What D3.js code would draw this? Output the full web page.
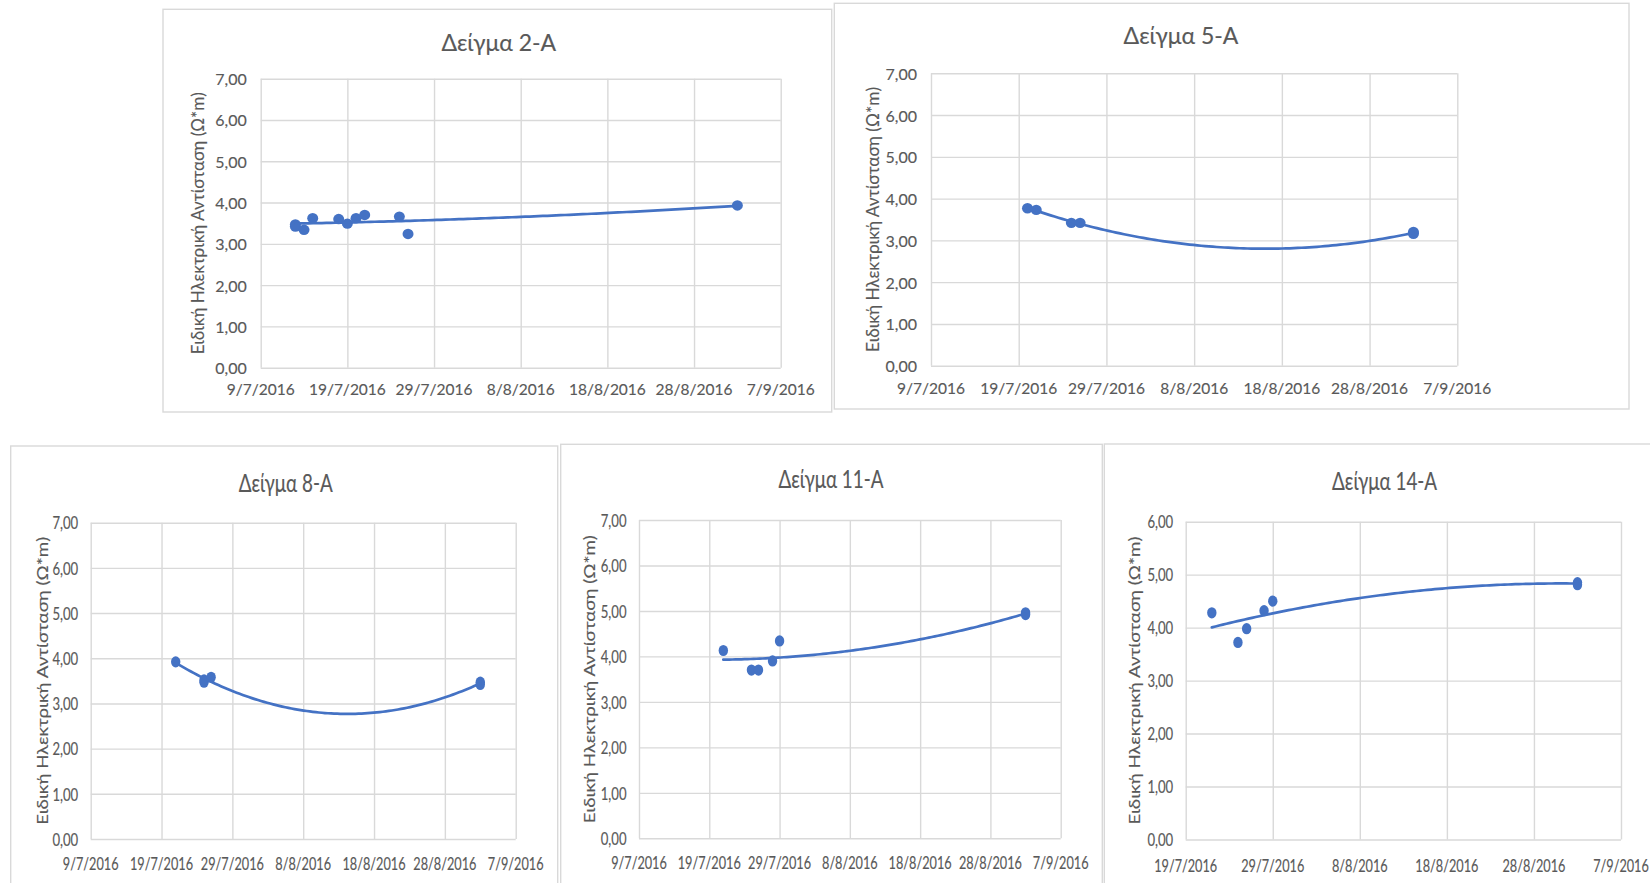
<!DOCTYPE html>
<html>
<head>
<meta charset="utf-8">
<script src="https://cdn.jsdelivr.net/npm/d3@7"></script>
<style>
  html, body { margin: 0; padding: 0; background: #ffffff; }
  svg { display: block; }
  text { font-family: Lato, "Open Sans", sans-serif; fill: #595959; stroke: #595959; stroke-width: 0.15px; }
</style>
</head>
<body>
<svg id="chart" width="1650" height="883"></svg>
<script>
// ---- Measurements: date of reading and electrical resistivity (Ω*m) ----
const dates2A  = ["2016-07-13","2016-07-13","2016-07-14","2016-07-15","2016-07-18","2016-07-19","2016-07-20","2016-07-21","2016-07-25","2016-07-26","2016-09-02"];
const values2A = [3.47, 3.42, 3.34, 3.62, 3.60, 3.49, 3.62, 3.70, 3.66, 3.24, 3.93];

const dates5A  = ["2016-07-20","2016-07-21","2016-07-25","2016-07-26","2016-09-02","2016-09-02"];
const values5A = [3.77, 3.73, 3.42, 3.42, 3.20, 3.16];

const dates8A  = ["2016-07-21","2016-07-25","2016-07-25","2016-07-26","2016-09-02","2016-09-02"];
const values8A = [3.92, 3.52, 3.47, 3.58, 3.47, 3.42];

const dates11A  = ["2016-07-21","2016-07-25","2016-07-26","2016-07-28","2016-07-29","2016-09-02","2016-09-02"];
const values11A = [4.13, 3.70, 3.70, 3.90, 4.34, 4.96, 4.92];

const dates14A  = ["2016-07-22","2016-07-25","2016-07-26","2016-07-28","2016-07-29","2016-09-02","2016-09-02"];
const values14A = [4.28, 3.72, 3.98, 4.32, 4.50, 4.85, 4.81];

// ---- Axis ticks and labels ----
const xTicksLong  = ["2016-07-09","2016-07-19","2016-07-29","2016-08-08","2016-08-18","2016-08-28","2016-09-07"];
const xTicksShort = ["2016-07-19","2016-07-29","2016-08-08","2016-08-18","2016-08-28","2016-09-07"];
const yTicks7 = [0, 1, 2, 3, 4, 5, 6, 7];
const yTicks6 = [0, 1, 2, 3, 4, 5, 6];
const titles = ["Δείγμα 2-A", "Δείγμα 5-A", "Δείγμα 8-A", "Δείγμα 11-A", "Δείγμα 14-A"];
const yAxisTitle = "Ειδική Ηλεκτρική Αντίσταση (Ω*m)";

// ---- Helpers ----
const parse = d3.timeParse("%Y-%m-%d");
const fmtDate = d => `${d.getDate()}/${d.getMonth() + 1}/${d.getFullYear()}`;
const fmtVal = v => d3.format(".2f")(v).replace(".", ",");
const DAY = 864e5;

// Least-squares polynomial (order 2) trendline
function quadFit(xs, ys) {
  const n = xs.length;
  const S = k => d3.sum(xs, x => Math.pow(x, k));
  const T = k => d3.sum(xs.map((x, i) => Math.pow(x, k) * ys[i]));
  const A = [[n, S(1), S(2), T(0)], [S(1), S(2), S(3), T(1)], [S(2), S(3), S(4), T(2)]];
  for (let i = 0; i < 3; i++) {
    let p = i;
    for (let r = i + 1; r < 3; r++) if (Math.abs(A[r][i]) > Math.abs(A[p][i])) p = r;
    [A[i], A[p]] = [A[p], A[i]];
    for (let r = 0; r < 3; r++) {
      if (r === i) continue;
      const f = A[r][i] / A[i][i];
      for (let c = i; c < 4; c++) A[r][c] -= f * A[i][c];
    }
  }
  const c = [A[0][3] / A[0][0], A[1][3] / A[1][1], A[2][3] / A[2][2]];
  return x => c[0] + c[1] * x + c[2] * x * x;
}

// ---- Panel layout ----
const panels = [
  { title: titles[0], dates: dates2A, values: values2A, xTicks: xTicksLong, yTicks: yTicks7,
    frame: [163, 9.3, 831.7, 412], plot: [260.7, 78.7, 780.7, 367.7], titleAt: [498.8, 41.7],
    yTitleX: 196.5, sx: 1, sy: 1, xLabelDy: 20.8, yLabelGap: 14, r: [5.5, 5.2], yTitleLen: 262 },
  { title: titles[1], dates: dates5A, values: values5A, xTicks: xTicksLong, yTicks: yTicks7,
    frame: [834.3, 3.3, 1629, 409], plot: [931, 73.3, 1457.3, 365.7], titleAt: [1181, 35],
    yTitleX: 871.5, sx: 1, sy: 1, xLabelDy: 22.6, yLabelGap: 14, r: [5.5, 5.2], yTitleLen: 265 },
  { title: titles[2], dates: dates8A, values: values8A, xTicks: xTicksLong, yTicks: yTicks7,
    frame: [10.7, 446, 557.7, 900], plot: [90.7, 522.7, 515.7, 839], titleAt: [285.7, 482],
    yTitleX: 42, sx: 0.82, sy: 1.07, xLabelDy: 24.7, yLabelGap: 12.5, r: [4.7, 5.6], yTitleLen: 288 },
  { title: titles[3], dates: dates11A, values: values11A, xTicks: xTicksLong, yTicks: yTicks7,
    frame: [560.7, 444.3, 1102.3, 900], plot: [639, 520, 1060.7, 838.3], titleAt: [831, 478.7],
    yTitleX: 589, sx: 0.82, sy: 1.07, xLabelDy: 24.3, yLabelGap: 12.5, r: [4.7, 5.6], yTitleLen: 288 },
  { title: titles[4], dates: dates14A, values: values14A, xTicks: xTicksShort, yTicks: yTicks6,
    frame: [1104.3, 444, 1700, 900], plot: [1185.7, 521.7, 1621, 839.5], titleAt: [1384.6, 480.6],
    yTitleX: 1134.5, sx: 0.82, sy: 1.07, xLabelDy: 25.5, yLabelGap: 12.5, r: [4.7, 5.6], yTitleLen: 288 }
];

const svg = d3.select("#chart");
const BLUE = "#4472C4";
const GRID = "#d9d9d9";

panels.forEach(p => {
  const g = svg.append("g");
  const [fx0, fy0, fx1, fy1] = p.frame;
  const [px0, py0, px1, py1] = p.plot;

  // chart frame
  g.append("rect")
    .attr("x", fx0).attr("y", fy0)
    .attr("width", fx1 - fx0).attr("height", fy1 - fy0)
    .attr("fill", "#ffffff").attr("stroke", GRID).attr("stroke-width", 1.4);

  const xTickDates = p.xTicks.map(parse);
  const x = d3.scaleTime()
    .domain([xTickDates[0], xTickDates[xTickDates.length - 1]])
    .range([px0, px1]);
  const y = d3.scaleLinear()
    .domain([0, d3.max(p.yTicks)])
    .range([py1, py0]);

  // gridlines
  g.append("g")
    .attr("transform", `translate(0,${py1})`)
    .call(d3.axisBottom(x).tickValues(xTickDates).tickSize(-(py1 - py0)).tickFormat(""))
    .call(a => a.select(".domain").remove())
    .call(a => a.selectAll("line").attr("stroke", GRID).attr("stroke-width", 1.4));
  g.append("g")
    .attr("transform", `translate(${px0},0)`)
    .call(d3.axisLeft(y).tickValues(p.yTicks).tickSize(-(px1 - px0)).tickFormat(""))
    .call(a => a.select(".domain").remove())
    .call(a => a.selectAll("line").attr("stroke", GRID).attr("stroke-width", 1.4));

  const sc = `scale(${p.sx},${p.sy})`;

  // tick labels
  g.selectAll(".xl").data(xTickDates).join("text")
    .attr("transform", d => `translate(${x(d)},${py1 + p.xLabelDy}) ${sc}`)
    .attr("text-anchor", "middle").attr("dominant-baseline", "central")
    .style("font-size", "15.5px")
    .text(fmtDate);
  g.selectAll(".yl").data(p.yTicks).join("text")
    .attr("transform", d => `translate(${px0 - p.yLabelGap},${y(d)}) ${sc}`)
    .attr("text-anchor", "end").attr("dominant-baseline", "central")
    .style("font-size", "16px")
    .text(fmtVal);

  // titles
  g.append("text")
    .attr("transform", `translate(${p.titleAt[0]},${p.titleAt[1]}) ${sc}`)
    .attr("text-anchor", "middle").attr("dominant-baseline", "central")
    .style("font-size", "23px")
    .text(p.title);
  g.append("text")
    .attr("transform", `translate(${p.yTitleX},${(py0 + py1) / 2}) ${sc} rotate(-90)`)
    .attr("text-anchor", "middle").attr("dominant-baseline", "central")
    .style("font-size", "18px")
    .attr("textLength", p.yTitleLen / p.sy)
    .attr("lengthAdjust", "spacingAndGlyphs")
    .text(yAxisTitle);

  // data
  const pts = p.dates.map((d, i) => ({ t: parse(d), v: p.values[i] }));
  const t0 = d3.min(pts, d => d.t);
  const days = pts.map(d => (d.t - t0) / DAY);
  const f = quadFit(days, pts.map(d => d.v));
  const maxDay = d3.max(days);
  const trend = d3.range(0, 101).map(k => {
    const dd = maxDay * k / 100;
    return { t: new Date(+t0 + dd * DAY), v: f(dd) };
  });

  g.selectAll(".pt").data(pts).join("ellipse")
    .attr("cx", d => x(d.t)).attr("cy", d => y(d.v))
    .attr("rx", p.r[0]).attr("ry", p.r[1])
    .attr("fill", BLUE);

  g.append("path")
    .datum(trend)
    .attr("fill", "none").attr("stroke", BLUE).attr("stroke-width", 2.7)
    .attr("stroke-linecap", "round")
    .attr("d", d3.line().x(d => x(d.t)).y(d => y(d.v)));
});
</script>
</body>
</html>
